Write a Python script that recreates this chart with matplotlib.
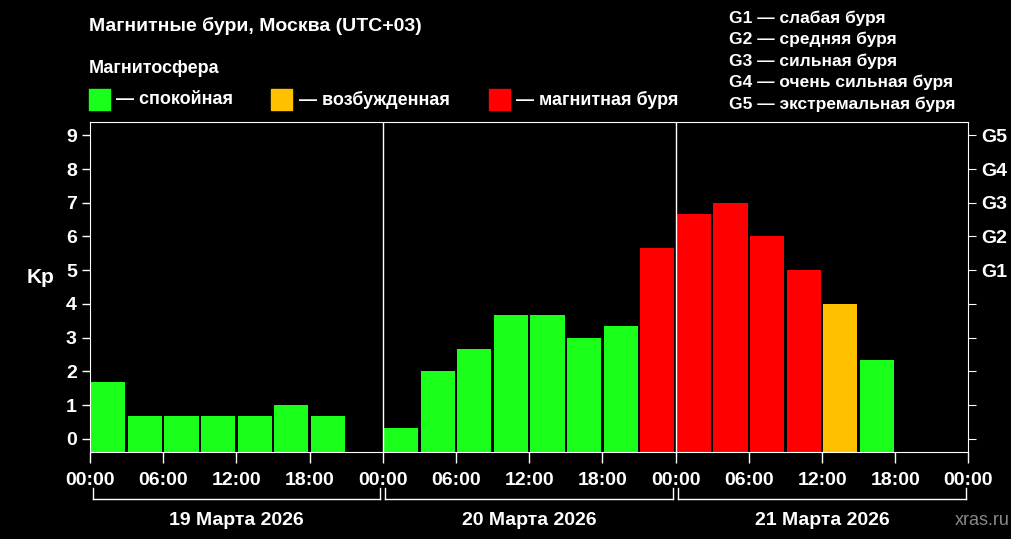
import matplotlib
matplotlib.use("Agg")
import matplotlib.pyplot as plt
from matplotlib.patches import Rectangle
plt.rcParams['font.family'] = ['Liberation Sans', 'DejaVu Sans']

kp = [1.67,0.67,0.67,0.67,0.67,1.0,0.67,None,
      0.33,2.0,2.67,3.67,3.67,3.0,3.33,5.67,
      6.67,7.0,6.0,5.0,4.0,2.33,None,None]
days = ["19 Марта 2026","20 Марта 2026","21 Марта 2026"]
xt_labels = ["00:00","06:00","12:00","18:00"]*3+["00:00"]
g_labels = ["G1","G2","G3","G4","G5"]
legend_items = [("#1aff1a","— спокойная"),("#ffc000","— возбужденная"),("#ff0000","— магнитная буря")]
g_desc = ["G1 — слабая буря","G2 — средняя буря","G3 — сильная буря","G4 — очень сильная буря","G5 — экстремальная буря"]

def color(v):
    if v >= 5: return "#ff0000"
    if v >= 4: return "#ffc000"
    return "#1aff1a"

fig = plt.figure(figsize=(10.12,5.39), dpi=100, facecolor="black")
ax = fig.add_axes([0.089,0.161,0.868,0.613], facecolor="black")
ymin = -0.4
for i,v in enumerate(kp):
    if v is None: continue
    ax.bar(i*3+1.5, v-ymin, width=2.8, bottom=ymin, color=color(v))
ax.set_xlim(0,72); ax.set_ylim(ymin,9.4)
for s in ax.spines.values(): s.set_color("white")
ax.axvline(24,color="white",lw=1); ax.axvline(48,color="white",lw=1)
ax.set_yticks(range(10))
ax.tick_params(colors="white", labelsize=14, width=1, length=6)
for t in ax.get_yticklabels(): t.set_fontweight("bold")
ax.set_xticks(range(0,73,6))
ax.set_xticklabels(xt_labels, fontsize=14, fontweight="bold", color="white")
ax.tick_params(axis="x", length=8, pad=6)
ax.set_ylabel("Kp", color="white", fontsize=15, fontweight="bold", rotation=0, labelpad=18)
ax2 = ax.twinx()
ax2.set_ylim(ymin,9.4)
ax2.set_yticks(range(10))
ax2.set_yticklabels(["","","","","",*g_labels])
ax2.tick_params(colors="white", labelsize=14, length=6)
for t in ax2.get_yticklabels(): t.set_fontweight("bold")
for s in ax2.spines.values(): s.set_visible(False)

for d,name in enumerate(days):
    x0 = fig.transFigure.inverted().transform(ax.transData.transform((d*24+0.2,0)))[0]
    x1 = fig.transFigure.inverted().transform(ax.transData.transform((d*24+23.8,0)))[0]
    yb = 0.075
    fig.add_artist(plt.Line2D([x0,x1],[yb,yb],color="white",lw=1))
    fig.add_artist(plt.Line2D([x0,x0],[yb,yb+0.02],color="white",lw=1))
    fig.add_artist(plt.Line2D([x1,x1],[yb,yb+0.02],color="white",lw=1))
    fig.text((x0+x1)/2, 0.035, name, color="white", fontsize=14, fontweight="bold", ha="center", va="center")

fig.text(0.088,0.952,"Магнитные бури, Москва (UTC+03)",color="white",fontsize=14,fontweight="bold",va="center")
fig.text(0.088,0.873,"Магнитосфера",color="white",fontsize=13,fontweight="bold",va="center")
for (c,lab),x in zip(legend_items,[0.088,0.268,0.483]):
    fig.add_artist(Rectangle((x,0.795),0.021,0.04,color=c,transform=fig.transFigure))
    fig.text(x+0.027,0.815,lab,color="white",fontsize=13,fontweight="bold",va="center")
for i,t in enumerate(g_desc):
    fig.text(0.72,0.967-i*0.04,t,color="white",fontsize=12.5,fontweight="bold",va="center")
fig.text(0.998,0.035,"xras.ru",color="#888888",fontsize=13,ha="right",va="center")
fig.savefig("out.png",dpi=100,facecolor="black")
